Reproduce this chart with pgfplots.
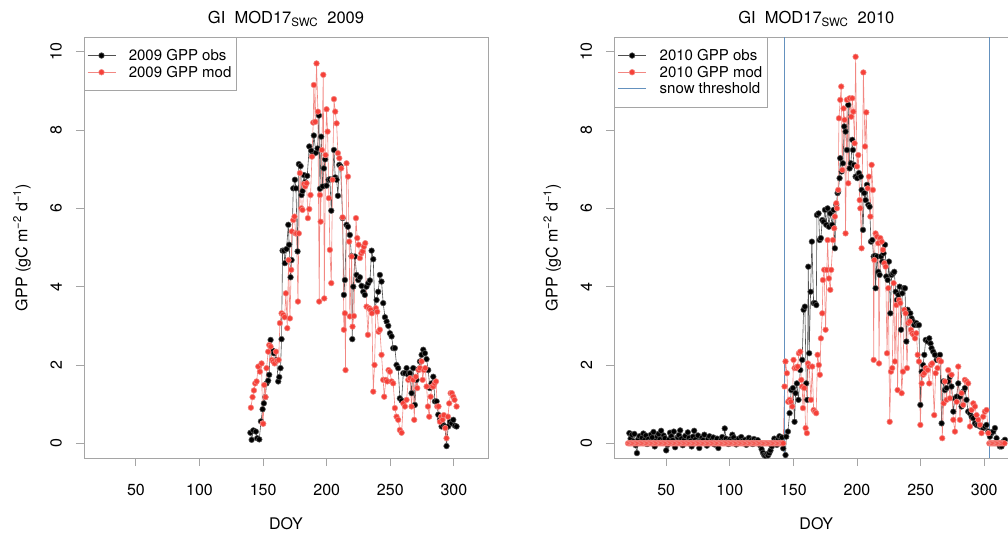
\documentclass[border=0pt]{standalone}
\usepackage{fontspec}
\setmainfont{TeX Gyre Heros}
\usepackage{pgfplots}
\pgfplotsset{compat=1.18}

\definecolor{modred}{RGB}{246,64,56}
\definecolor{modline}{RGB}{242,135,130}
\definecolor{obsline}{RGB}{80,80,80}
\definecolor{framegray}{RGB}{165,165,165}
\definecolor{snowblue}{RGB}{100,145,190}

\pgfplotsset{
  gpp/.style={
    scale only axis, width=404pt, height=421pt,
    xmin=9.2, xmax=326.8, ymin=-0.375, ymax=10.375,
    xtick={50,100,...,300}, ytick={0,2,...,10},
    axis line style={framegray, line width=0.9pt},
    tick style={framegray, line width=0.9pt},
    tick align=outside, major tick length=8pt, tick pos=left,
    tick label style={font=\fontsize{16}{19}\selectfont, black},
    /pgf/number format/assume math mode=true,
    yticklabel style={rotate=90, anchor=south, inner ysep=14pt},
    xticklabel style={anchor=north, yshift=-15pt},
    label style={font=\fontsize{16}{19}\selectfont},
    xlabel={DOY},
    xlabel style={at={(axis description cs:0.5,-0.157)}, anchor=center},
    ylabel={GPP (gC m\textsuperscript{−2} d\textsuperscript{−1})},
    ylabel style={at={(axis description cs:-0.1535,0.5)}, anchor=center},
    title style={font=\fontsize{16.5}{19}\selectfont, at={(axis description cs:0.5,1.029)}, anchor=center},
    legend style={at={(0,1)}, anchor=north west, draw=framegray, fill=white,
      font=\fontsize{15}{18}\selectfont, row sep=0pt, inner xsep=3pt, inner ysep=10pt,
      /tikz/every odd column/.append style={column sep=11pt}},
    legend cell align=left,
    legend image code/.code={\draw[mark repeat=2,mark phase=2] plot coordinates {(0pt,0pt) (14pt,0pt) (28pt,0pt)};},
  },
  obs/.style={obsline, line width=0.6pt, mark=*, mark size=2.8pt, mark options={draw=none, fill=black}},
  mod/.style={modline, line width=0.6pt, mark=*, mark size=2.8pt, mark options={draw=none, fill=modred}},
}

\begin{document}
\begin{tikzpicture}
\begin{axis}[gpp, at={(84pt,78pt)}, anchor=south west,
  title={GI\ \ MOD17\textsubscript{SWC}\ \ 2009}]
\addplot[obs] table {
140.0 0.27
141.0 0.09
142.3 0.33
144.3 0.30
145.4 0.13
147.0 0.10
148.3 0.56
149.6 0.87
150.6 1.02
151.7 1.18
152.7 1.53
154.0 1.60
154.8 1.75
155.9 2.64
157.4 2.37
158.5 2.30
160.6 2.13
161.9 1.58
162.7 1.69
163.7 1.92
164.5 2.66
165.3 4.92
166.4 4.92
167.1 4.60
168.4 4.96
169.8 5.58
170.5 5.07
171.6 4.24
172.4 4.68
173.7 6.51
175.0 6.73
175.8 6.51
177.1 4.90
178.1 7.13
179.5 7.08
180.2 6.34
181.0 6.44
182.1 6.85
183.1 6.67
184.7 6.83
186.3 7.58
187.8 7.47
188.9 7.36
189.9 7.86
191.5 7.42
192.8 7.53
193.9 8.37
194.7 6.50
195.7 7.83
196.8 6.56
197.8 7.02
198.8 7.25
199.9 6.58
201.5 6.73
202.5 6.74
203.6 5.94
204.6 6.74
205.7 7.49
206.7 6.79
207.8 6.73
208.8 6.32
209.9 7.11
210.9 7.07
212.5 5.75
213.5 3.79
214.3 4.17
215.6 5.58
216.7 5.53
218.2 5.32
219.5 4.78
220.1 2.66
220.9 4.00
222.2 4.77
223.5 4.30
224.8 4.17
226.1 4.24
227.4 4.02
228.7 3.87
230.0 3.79
231.3 4.00
232.7 4.09
234.0 4.16
235.3 4.92
236.6 4.70
237.9 3.39
239.2 3.66
240.5 3.87
241.8 4.30
243.1 4.13
244.4 3.58
245.8 3.22
247.1 3.11
248.4 3.00
249.7 2.81
251.0 2.73
252.3 2.43
253.6 2.43
254.9 2.00
256.2 1.92
257.5 1.15
258.9 1.09
260.2 1.79
261.5 1.79
262.8 1.92
264.1 1.75
265.4 1.79
266.7 1.28
268.0 1.92
269.3 0.98
270.6 1.62
272.0 1.89
273.3 2.09
274.6 2.26
275.9 2.39
277.2 2.30
278.5 2.15
279.8 1.87
281.1 1.41
282.4 1.53
283.8 1.70
285.1 1.07
286.4 1.07
287.7 0.73
289.0 0.60
290.3 0.43
291.6 0.47
292.9 0.43
294.2 -0.07
295.5 0.43
296.9 0.55
298.2 0.51
299.5 0.60
300.8 0.45
302.1 0.43
};
\addlegendentry{2009 GPP obs\hspace{8pt}}
\addplot[mod] table {
140.4 0.91
141.7 1.18
142.8 1.35
143.8 1.53
144.9 1.58
146.2 1.96
147.5 1.83
148.8 2.04
149.6 0.51
150.1 0.50
150.9 1.49
151.9 1.18
152.7 1.92
154.0 2.34
154.8 2.51
155.9 2.47
156.9 2.13
158.0 2.09
159.0 2.04
160.1 2.34
161.1 2.11
162.2 2.13
163.2 3.07
164.5 3.32
165.8 3.28
166.9 3.22
167.9 3.83
169.0 2.94
170.0 4.68
171.1 3.19
172.1 4.43
172.6 5.41
173.7 5.70
174.7 5.79
175.5 5.36
176.3 5.36
177.4 3.62
178.1 5.36
178.9 6.90
180.0 6.00
181.0 5.96
182.1 6.62
183.1 6.56
184.2 6.64
185.2 5.75
186.3 5.98
187.3 6.34
188.4 7.32
189.4 8.19
189.9 9.15
191.0 8.21
192.0 9.70
193.1 8.47
194.1 3.62
194.7 6.34
195.2 5.66
196.2 7.49
197.3 9.41
198.1 3.70
199.1 7.36
199.9 8.53
200.7 7.96
201.7 6.26
202.5 4.94
203.6 4.09
204.6 6.73
205.7 8.79
206.7 8.47
207.8 8.17
208.8 7.41
209.9 7.28
211.4 7.02
212.5 5.77
213.5 2.90
214.3 3.32
214.8 1.87
215.6 7.15
216.7 6.81
217.7 5.15
218.2 3.24
219.6 4.77
220.3 2.98
221.4 3.25
223.0 5.75
224.0 5.24
225.1 5.07
226.1 4.73
227.2 4.85
228.2 4.90
229.2 5.02
230.3 5.11
231.3 3.49
232.4 2.77
233.4 3.45
234.5 3.41
235.5 3.32
236.6 1.32
237.6 2.00
238.7 3.45
239.7 3.36
240.8 2.85
241.8 2.90
243.1 2.26
244.4 1.62
245.2 1.19
246.5 1.62
247.6 1.58
248.6 1.87
249.7 1.83
251.0 1.58
252.3 1.53
253.6 0.90
254.9 0.68
256.2 0.60
257.5 0.34
258.9 0.27
260.2 1.02
261.5 0.94
262.8 1.11
264.1 1.62
265.4 1.66
266.7 0.94
268.0 1.62
268.8 0.60
270.1 1.70
271.2 1.41
272.2 1.87
273.3 1.92
274.6 2.09
275.4 1.62
276.4 1.87
277.5 1.92
278.5 1.45
279.6 0.94
280.6 0.68
281.7 1.19
282.7 1.45
283.8 1.45
284.8 1.53
285.9 1.58
286.9 0.94
287.9 0.94
289.0 0.55
290.0 0.68
291.1 0.60
292.1 0.72
293.2 0.39
294.2 0.13
295.3 0.68
296.3 1.02
297.4 1.28
298.4 1.28
299.5 1.19
300.5 1.11
302.1 0.94
};
\addlegendentry{2009 GPP mod\hspace{8pt}}
\end{axis}

\begin{axis}[gpp, at={(614.3pt,78pt)}, anchor=south west,
  title={GI\ \ MOD17\textsubscript{SWC}\ \ 2010}]
\addplot[obs] table {
21 0.26
22 0.12
23 0.22
24 0.05
25 0.24
26 -0.05
27 -0.25
28 0.10
29 0.18
30 0.02
31 0.14
32 0.25
33 0.08
34 0.20
35 -0.02
36 0.11
37 0.04
38 0.22
39 0.15
40 0.29
41 -0.08
42 0.06
43 0.17
44 0.24
45 0.10
46 0.32
47 0.05
48 0.20
49 0.13
50 -0.18
51 -0.04
52 0.09
53 0.27
54 0.18
55 0.08
56 0.30
57 -0.10
58 0.02
59 0.15
60 0.21
61 0.33
62 0.12
63 -0.05
64 0.08
65 0.19
66 0.02
67 0.28
68 0.14
69 0.06
70 -0.08
71 0.17
72 0.32
73 0.10
74 0.03
75 0.20
76 -0.12
77 0.05
78 0.14
79 0.08
80 0.22
81 0.02
82 -0.06
83 0.11
84 0.18
85 0.04
86 0.09
87 0.15
88 -0.03
89 0.06
90 0.12
91 -0.12
92 0.02
93 0.08
94 0.16
95 0.05
96 0.38
97 0.12
98 0.04
99 -0.02
100 0.10
101 0.06
102 0.22
103 0.15
104 0.05
105 -0.03
106 0.08
107 0.12
108 0.02
109 0.16
110 0.06
111 0.00
112 0.09
113 -0.04
114 0.05
115 0.14
116 0.03
117 0.08
118 -0.02
119 0.11
120 0.05
121 0.02
122 0.08
123 0.00
124 -0.06
125 -0.15
126 -0.24
127 -0.30
128 -0.32
129 -0.28
130 -0.31
131 -0.25
132 -0.18
133 -0.08
134 0.02
135 0.12
136 0.05
137 -0.04
138 0.10
139 0.18
140 0.08
141 0.15
142 -0.13
143.8 -0.30
144.4 0.17
145.7 0.30
147.0 0.77
148.3 1.36
149.6 1.41
150.9 0.55
151.7 1.28
152.7 1.53
154.0 1.11
155.4 1.87
156.9 2.13
158.0 3.41
159.0 3.49
160.1 1.53
160.9 1.11
161.7 4.51
162.4 2.30
163.5 3.87
164.5 5.15
165.9 3.58
166.9 3.58
168.0 3.53
168.5 5.83
169.8 5.87
170.6 5.19
171.6 5.24
172.7 5.70
173.7 5.66
174.8 5.96
175.8 5.58
176.9 6.00
177.9 5.53
179.0 5.87
180.5 5.58
181.6 5.96
182.6 4.98
183.7 6.09
184.7 6.39
185.2 6.43
186.3 6.77
186.8 7.28
187.9 6.94
188.9 7.15
190.0 8.09
191.0 7.96
192.1 7.49
193.1 8.64
194.2 7.02
195.2 7.15
196.3 7.75
196.8 7.49
197.6 7.11
198.9 6.81
200.2 6.77
201.5 6.90
202.9 6.81
203.6 6.47
204.7 5.45
205.7 6.39
206.8 6.21
207.8 6.60
208.9 6.09
209.9 6.04
211.0 5.15
212.0 5.19
213.1 4.77
214.1 4.79
214.6 3.96
215.7 4.77
216.7 4.38
217.8 4.30
218.8 4.77
219.9 4.64
220.9 4.85
222.0 5.07
223.0 4.26
224.1 4.17
225.1 4.64
226.2 3.32
227.2 4.30
228.3 4.34
229.3 4.38
230.4 3.87
231.4 3.66
232.5 3.79
233.5 4.00
234.6 2.90
235.6 3.83
236.7 3.96
237.7 3.96
238.8 2.60
239.8 3.41
240.8 3.32
241.9 3.32
242.9 3.19
244.0 3.11
245.0 3.02
246.6 3.07
247.7 3.02
248.7 3.02
249.8 0.98
250.8 1.83
251.9 2.00
252.9 2.26
254.0 2.64
255.5 2.60
256.8 2.68
257.8 2.55
258.6 2.43
259.9 2.34
261.2 2.26
262.6 2.13
263.9 2.17
265.2 2.26
266.5 0.51
267.8 1.58
269.1 1.36
270.4 1.41
271.7 1.58
273.0 1.70
274.3 1.45
275.7 0.81
277.0 1.15
278.3 1.19
279.6 1.53
280.9 1.19
282.2 0.94
283.5 1.32
284.8 1.41
286.1 1.11
287.4 0.81
288.8 0.77
290.1 0.68
291.4 0.64
292.7 0.51
294.0 0.47
295.3 0.47
296.6 0.43
297.9 0.43
299.2 0.39
300.5 0.43
301.8 0.47
303.2 0.30
304.5 0.17
305.8 0.26
307.1 0.30
308.4 0.39
309.7 0.13
311.0 0.00
312.3 -0.08
313.6 -0.08
315.0 0.04
316.3 0.09
};
\addlegendentry{2010 GPP obs}
\addplot[mod] table {
20 0
21 0
22 0
23 0
24 0
25 0
26 0
27 0
28 0
29 0
30 0
31 0
32 0
33 0
34 0
35 0
36 0
37 0
38 0
39 0
40 0
41 0
42 0
43 0
44 0
45 0
46 0
47 0
48 0
49 0
50 0
51 0
52 0
53 0
54 0
55 0
56 0
57 0
58 0
59 0
60 0
61 0
62 0
63 0
64 0
65 0
66 0
67 0
68 0
69 0
70 0
71 0
72 0
73 0
74 0
75 0
76 0
77 0
78 0
79 0
80 0
81 0
82 0
83 0
84 0
85 0
86 0
87 0
88 0
89 0
90 0
91 0
92 0
93 0
94 0
95 0
96 0
97 0
98 0
99 0
100 0
101 0
102 0
103 0
104 0
105 0
106 0
107 0
108 0
109 0
110 0
111 0
112 0
113 0
114 0
115 0
116 0
117 0
118 0
119 0
120 0
121 0
122 0
123 0
124 0
125 0
126 0
127 0
128 0
129 0
130 0
131 0
132 0
133 0
134 0
135 0
136 0
137 0
138 0
139 0
140 0
141 0
142 0
143.0 1.45
143.8 2.09
144.9 1.79
145.9 1.06
147.0 1.11
148.0 1.06
149.1 0.94
150.1 2.13
150.9 1.92
152.2 1.92
153.3 1.96
154.3 2.30
155.4 2.34
156.2 1.62
156.9 1.45
157.5 0.90
158.5 1.41
159.6 0.39
160.6 0.26
161.4 2.04
162.4 1.96
163.8 1.11
164.8 1.96
165.9 0.85
166.9 0.81
167.9 0.77
169.0 2.26
170.0 2.00
170.8 1.75
171.6 2.68
172.7 3.32
173.2 4.17
174.2 4.43
175.3 2.90
176.3 4.43
176.9 5.19
177.9 4.21
179.0 3.92
179.7 4.43
181.1 5.19
182.1 5.49
182.6 5.79
183.7 6.13
184.2 6.00
185.2 6.47
185.8 8.30
186.8 8.77
187.6 9.11
188.4 6.98
189.4 8.55
190.2 8.26
191.0 5.36
192.1 8.77
193.1 6.64
194.2 8.81
195.5 8.34
196.3 8.81
197.1 8.47
198.1 7.66
198.9 9.87
200.0 7.07
201.0 7.36
202.1 6.21
202.6 6.00
203.6 4.98
205.0 9.47
206.3 7.58
207.3 8.45
208.4 6.51
209.4 6.81
210.5 5.79
211.5 7.11
212.5 6.47
213.1 2.13
213.6 4.68
214.6 5.36
215.7 5.28
216.7 5.11
217.3 2.04
218.3 5.24
219.4 5.15
220.4 4.94
221.5 4.60
222.5 4.51
223.6 2.30
224.6 3.96
225.7 0.55
226.7 1.83
227.7 1.92
228.8 4.09
229.8 2.09
230.9 3.53
231.9 1.36
233.0 3.66
234.0 3.58
235.1 1.28
236.1 1.83
237.2 3.41
238.2 3.32
239.3 1.92
240.3 3.07
241.4 3.11
242.4 2.90
243.5 2.81
244.5 2.77
245.6 2.68
246.6 2.81
247.7 2.26
248.7 2.09
249.8 0.47
250.8 1.53
251.9 1.75
252.9 1.79
254.0 1.92
255.5 1.87
256.8 1.53
258.1 2.00
259.1 2.04
260.7 0.72
261.8 1.79
263.3 1.92
264.4 2.13
266.0 2.09
267.0 0.13
268.1 1.02
269.1 1.58
270.4 1.11
271.7 1.87
273.0 1.15
274.3 1.75
275.7 0.60
277.0 0.30
278.3 1.06
279.6 1.96
280.9 0.60
282.2 1.28
283.5 0.98
284.8 1.62
286.1 1.58
287.4 1.53
288.8 0.43
290.1 0.85
291.4 1.02
292.7 0.94
294.0 0.72
295.3 0.60
296.6 0.47
297.9 0.26
299.2 0.68
300.5 0.81
301.8 0.85
303.2 0.26
304 0
305 0
306 0
307 0
308 0
309 0
310 0
311 0
312 0
313 0
314 0
315 0
316 0
};
\addlegendentry{2010 GPP mod}
\addplot[snowblue, line width=1.2pt] coordinates {(143,-0.375) (143,10.375)};
\addlegendentry{snow threshold\hspace{8pt}}
\addplot[snowblue, line width=1.2pt, forget plot] coordinates {(304,-0.375) (304,10.375)};
\end{axis}
\pgfresetboundingbox
\useasboundingbox (0pt,0pt) rectangle (1008pt,536pt);
\end{tikzpicture}
\end{document}
